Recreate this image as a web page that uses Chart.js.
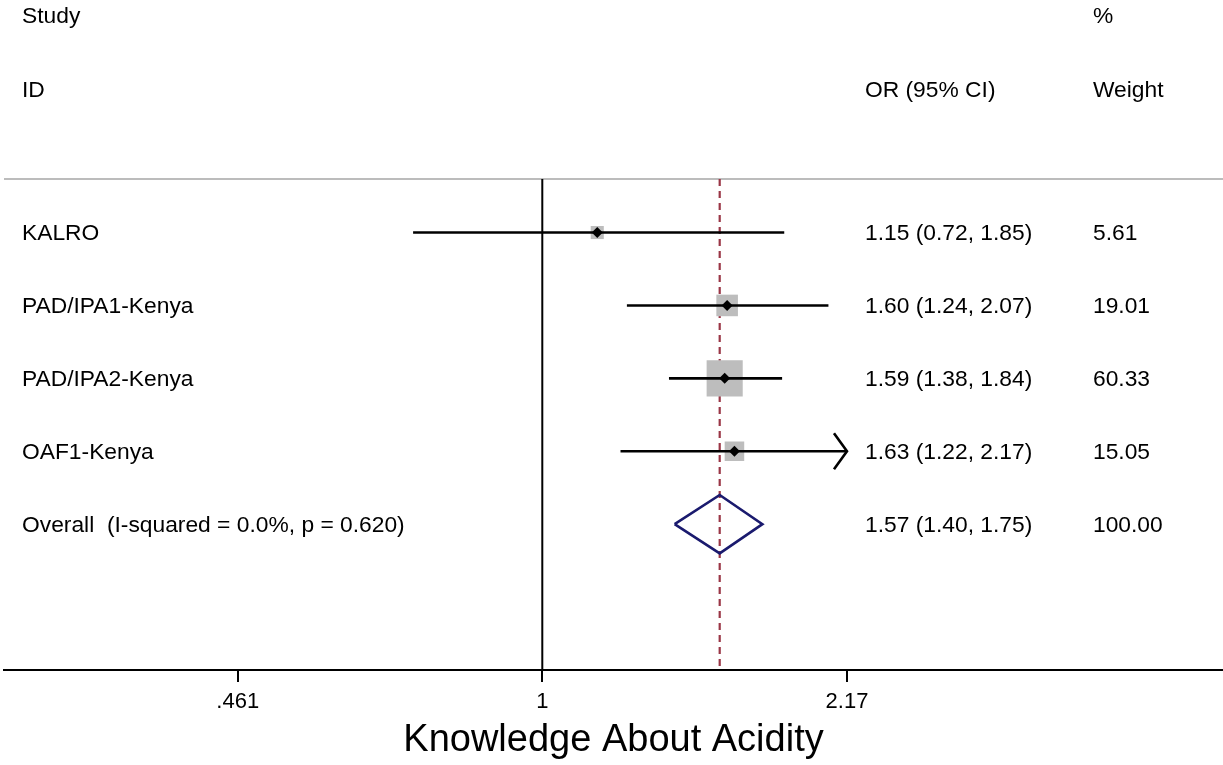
<!DOCTYPE html>
<html>
<head>
<meta charset="utf-8">
<script src="https://cdn.jsdelivr.net/npm/chart.js@4.4.1/dist/chart.umd.min.js"></script>
<style>
  html, body { margin: 0; padding: 0; background: #fff; }
  #wrap { width: 1223px; height: 765px; position: relative; }
</style>
</head>
<body>
<div id="wrap"><canvas id="forest"></canvas></div>
<script>
// dados dos estudos (OR e IC 95%)
const studies = ['KALRO', 'PAD/IPA1-Kenya', 'PAD/IPA2-Kenya', 'OAF1-Kenya'];
const orValues = [1.15, 1.60, 1.59, 1.63];
const ciLow = [0.72, 1.24, 1.38, 1.22];
const ciHigh = [1.85, 2.07, 1.84, 2.17];
const weights = [5.61, 19.01, 60.33, 15.05];

// resultado combinado
const overallLabel = 'Overall  (I-squared = 0.0%, p = 0.620)';
const overallOR = 1.57;
const overallLow = 1.40;
const overallHigh = 1.75;
const overallWeight = 100.00;

// eixo x
const tickValues = [0.461, 1, 2.17];
const tickLabels = ['.461', '1', '2.17'];
const axisTitle = 'Knowledge About Acidity';

const FONT = '"Liberation Sans", Helvetica, Arial, sans-serif';
const clipHigh = tickValues[tickValues.length - 1];
const clipLow = tickValues[0];
const ln = Math.log;
const overallRow = studies.length + 1;

// tamanho do quadrado proporcional ao peso
function boxRadius(w) {
  return (3 + 4.26 * Math.sqrt(w)) / Math.SQRT2;
}

const datasets = [];

// quadrados cinzas (peso)
datasets.push({
  data: studies.map((s, i) => ({ x: ln(orValues[i]), y: i + 1 })),
  pointStyle: 'rect',
  pointRadius: ctx => boxRadius(weights[ctx.dataIndex]),
  backgroundColor: '#bdbdbd',
  borderWidth: 0,
  showLine: false,
  order: 3
});

// linhas dos intervalos de confiança
studies.forEach((s, i) => {
  datasets.push({
    data: [
      { x: ln(Math.max(ciLow[i], clipLow)), y: i + 1 },
      { x: ln(Math.min(ciHigh[i], clipHigh)), y: i + 1 }
    ],
    showLine: true,
    borderColor: '#000',
    borderWidth: 2.6,
    pointRadius: 0,
    order: 2
  });
});

// ponto estimado
datasets.push({
  data: studies.map((s, i) => ({ x: ln(orValues[i]), y: i + 1 })),
  pointStyle: 'rectRot',
  pointRadius: 5.5,
  backgroundColor: '#000',
  borderWidth: 0,
  showLine: false,
  order: 1
});

// losango do efeito combinado
const halfH = 0.4;
datasets.push({
  data: [
    { x: ln(overallLow), y: overallRow },
    { x: ln(overallOR), y: overallRow - halfH },
    { x: ln(overallHigh), y: overallRow },
    { x: ln(overallOR), y: overallRow + halfH },
    { x: ln(overallLow), y: overallRow }
  ],
  showLine: true,
  borderColor: '#1a1a6e',
  borderWidth: 2.6,
  borderJoinStyle: 'miter',
  pointRadius: 0,
  fill: false,
  order: 1
});

const topRule = 0.266;

const forestPlugin = {
  id: 'forestPlugin',
  beforeDatasetsDraw(chart) {
    const { ctx, chartArea, scales: { x, y } } = chart;
    const yTop = y.getPixelForValue(topRule);
    ctx.save();
    // linha separadora do cabeçalho
    ctx.strokeStyle = '#bcbcbc';
    ctx.lineWidth = 2;
    ctx.beginPath();
    ctx.moveTo(chartArea.left, yTop);
    ctx.lineTo(chartArea.right, yTop);
    ctx.stroke();
    // linha de nulidade (OR = 1)
    ctx.strokeStyle = '#000';
    ctx.lineWidth = 2;
    ctx.beginPath();
    ctx.moveTo(x.getPixelForValue(0), yTop);
    ctx.lineTo(x.getPixelForValue(0), chartArea.bottom);
    ctx.stroke();
    // linha tracejada do efeito combinado
    ctx.strokeStyle = '#9a3646';
    ctx.lineWidth = 2.2;
    ctx.setLineDash([7, 5]);
    ctx.beginPath();
    ctx.moveTo(x.getPixelForValue(ln(overallOR)), yTop);
    ctx.lineTo(x.getPixelForValue(ln(overallOR)), chartArea.bottom);
    ctx.stroke();
    ctx.restore();
  },
  afterDatasetsDraw(chart) {
    const { ctx, scales: { x, y } } = chart;
    ctx.save();
    // setas quando o IC ultrapassa o eixo
    ctx.strokeStyle = '#000';
    ctx.lineWidth = 2.6;
    studies.forEach((s, i) => {
      if (ciHigh[i] >= clipHigh) {
        const px = x.getPixelForValue(ln(clipHigh));
        const py = y.getPixelForValue(i + 1);
        ctx.beginPath();
        ctx.moveTo(px - 13, py - 18);
        ctx.lineTo(px, py);
        ctx.lineTo(px - 13, py + 18);
        ctx.stroke();
      }
    });

    // textos
    ctx.fillStyle = '#000';
    ctx.font = '22.8px ' + FONT;
    ctx.textBaseline = 'middle';
    ctx.textAlign = 'left';
    const colLabel = 22, colOR = 865, colW = 1093;
    const dy = 1.5;
    const h1 = y.getPixelForValue(-1.98) + dy;
    const h2 = y.getPixelForValue(-0.97) + dy;
    ctx.fillText('Study', colLabel, h1);
    ctx.fillText('%', colW, h1);
    ctx.fillText('ID', colLabel, h2);
    ctx.fillText('OR (95% CI)', colOR, h2);
    ctx.fillText('Weight', colW, h2);

    studies.forEach((s, i) => {
      const py = y.getPixelForValue(i + 1) + dy;
      ctx.fillText(s, colLabel, py);
      ctx.fillText(`${orValues[i].toFixed(2)} (${ciLow[i].toFixed(2)}, ${ciHigh[i].toFixed(2)})`, colOR, py);
      ctx.fillText(weights[i].toFixed(2), colW, py);
    });
    const po = y.getPixelForValue(overallRow) + dy;
    ctx.fillText(overallLabel, colLabel, po);
    ctx.fillText(`${overallOR.toFixed(2)} (${overallLow.toFixed(2)}, ${overallHigh.toFixed(2)})`, colOR, po);
    ctx.fillText(overallWeight.toFixed(2), colW, po);
    ctx.restore();
  }
};

new Chart(document.getElementById('forest'), {
  type: 'scatter',
  data: { datasets },
  options: {
    responsive: true,
    maintainAspectRatio: false,
    animation: false,
    events: [],
    layout: { autoPadding: false, padding: { left: 4, right: 0, top: 0, bottom: 0 } },
    plugins: {
      legend: { display: false },
      tooltip: { enabled: false }
    },
    scales: {
      x: {
        type: 'linear',
        min: -1.3687,
        max: 1.7308,
        afterBuildTicks: scale => {
          scale.ticks = tickValues.map(v => ({ value: ln(v) }));
        },
        afterFit: scale => { scale.height = 95; },
        ticks: {
          callback: (val, idx) => tickLabels[idx],
          font: { family: FONT, size: 22 },
          color: '#000',
          padding: 7,
          maxRotation: 0,
          autoSkip: false
        },
        grid: {
          drawOnChartArea: false,
          drawTicks: true,
          tickLength: 12,
          color: '#000',
          lineWidth: 2
        },
        border: { display: true, color: '#000', width: 2 },
        title: {
          display: true,
          text: axisTitle,
          color: '#000',
          font: { family: FONT, size: 38 },
          padding: { top: 0, bottom: 2 }
        }
      },
      y: {
        type: 'linear',
        reverse: true,
        min: -2.189,
        max: 7.0,
        display: false
      }
    }
  },
  plugins: [forestPlugin]
});
</script>
</body>
</html>
